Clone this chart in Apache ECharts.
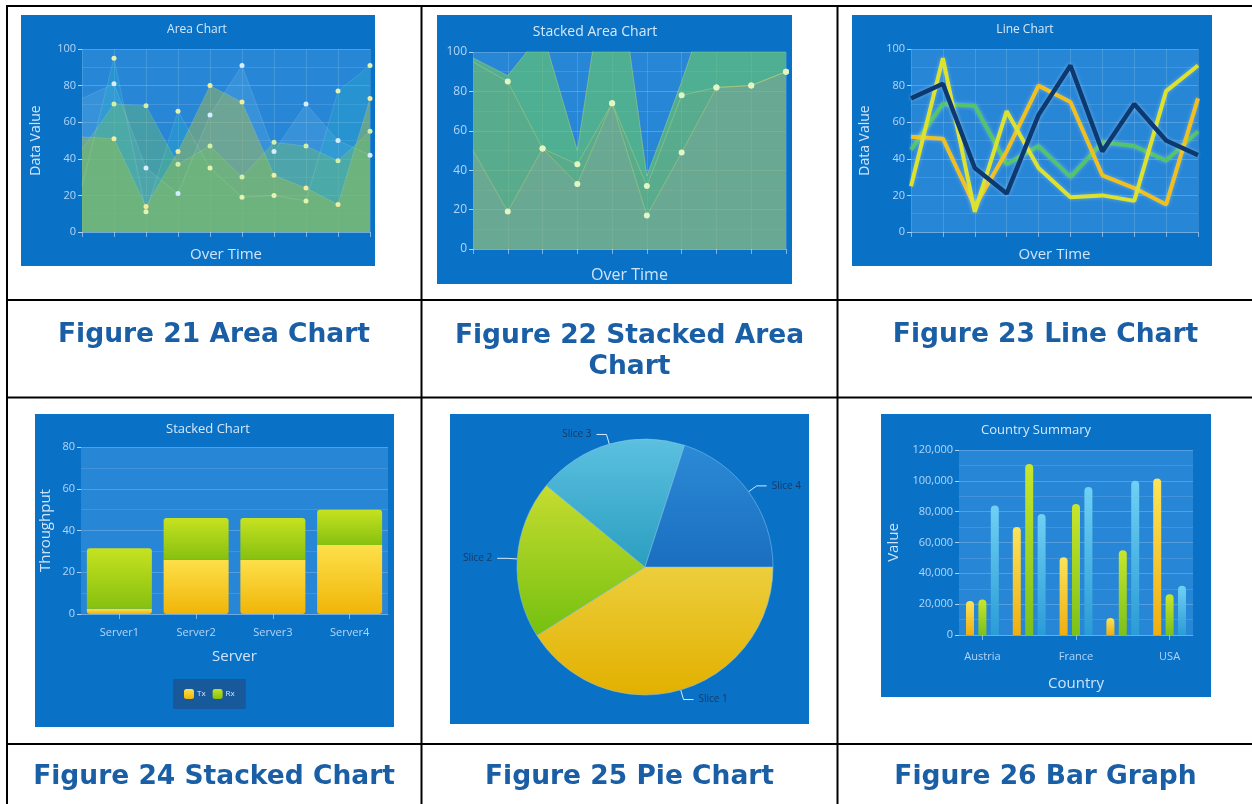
<!DOCTYPE html>
<html><head><meta charset="utf-8">
<script src="https://cdn.jsdelivr.net/npm/echarts@6/dist/echarts.min.js"></script>
<style>html,body{margin:0;padding:0;background:#fff}#c{width:1252px;height:804px}</style>
</head><body><div id="c"></div>
<script>
// ---------- DATA ----------
const timeSteps = ['1','2','3','4','5','6','7','8','9','10'];
const areaNavy   = [73, 81, 35, 21, 64, 91, 44, 70, 50, 42];
const areaYellow = [25, 95, 11, 66, 35, 19, 20, 17, 77, 91];
const areaGold   = [52, 51, 14, 44, 80, 71, 31, 24, 15, 73];
const areaGreen  = [45, 70, 69, 37, 47, 30, 49, 47, 39, 55];

const stackBottom = [50, 19, 51, 33, 74, 17, 49, 82, 83, 90];
const stackMiddle = [45, 66, 0, 10, 0, 15, 29, 0, 0, 0];
const stackTop    = [2, 3, 59, 7, 91, 5, 7, 55, 45, 40];

const servers  = ['Server1', 'Server2', 'Server3', 'Server4'];
const txValues = [2.5, 26, 26, 33];
const rxValues = [29, 20, 20, 17];

const sliceNames  = ['Slice 1', 'Slice 2', 'Slice 3', 'Slice 4'];
const sliceValues = [41, 20, 19, 20];

const countries = ['Austria', 'Canada', 'France', 'Germany', 'USA'];
const countrySeriesA = [22000, 70000, 50500, 11000, 101500];
const countrySeriesB = [23000, 111000, 85000, 55000, 26500];
const countrySeriesC = [84000, 78500, 96000, 100000, 32000];

const captions = ['Figure 21 Area Chart', 'Figure 22 Stacked Area', 'Chart', 'Figure 23 Line Chart',
                  'Figure 24 Stacked Chart', 'Figure 25 Pie Chart', 'Figure 26 Bar Graph'];
const chartTitles = ['Area Chart', 'Stacked Area Chart', 'Line Chart', 'Stacked Chart', 'Country Summary'];

// ---------- STYLE HELPERS ----------
const FONT = '"Open Sans", "Noto Sans", sans-serif';
const PANEL = '#0a72c6';
const PLOT = '#2786d6';
const LBL = 'rgba(205,228,255,0.85)';
const NAMEC = 'rgba(225,238,255,0.92)';
const G = echarts.graphic;
const vgrad = (a, b) => new G.LinearGradient(0, 0, 0, 1, [{offset: 0, color: a}, {offset: 1, color: b}]);
const hideFirstDot = arr => arr.map((v, i) => i === 0 ? {value: v, symbol: 'none'} : v);

function valueAxis(gi, max, interval, name, nameGap, nameSize, labelSize, fmt) {
  return {
    type: 'value', gridIndex: gi, min: 0, max: max, interval: interval,
    name: name, nameLocation: 'middle', nameGap: nameGap, nameRotate: 90,
    nameTextStyle: {color: NAMEC, fontSize: nameSize, fontFamily: FONT},
    axisLine: {show: false},
    axisTick: {show: true, length: 4, lineStyle: {color: LBL}},
    axisLabel: {color: LBL, fontSize: labelSize, fontFamily: FONT, margin: 6, formatter: fmt},
    splitLine: {show: true, lineStyle: {color: 'rgba(255,255,255,0.2)'}},
    minorTick: {show: false, splitNumber: 2},
    minorSplitLine: {show: true, lineStyle: {color: 'rgba(255,255,255,0.12)'}}
  };
}
function catAxis(gi, data, boundaryGap, name, nameGap, nameSize, showLabel, labelInterval, labelMargin) {
  return {
    type: 'category', gridIndex: gi, data: data, boundaryGap: boundaryGap,
    name: name, nameLocation: 'middle', nameGap: nameGap,
    nameTextStyle: {color: NAMEC, fontSize: nameSize, fontFamily: FONT},
    axisLine: {show: true, lineStyle: {color: 'rgba(200,225,255,0.35)'}},
    axisTick: {show: true, length: 5, alignWithLabel: true, lineStyle: {color: 'rgba(200,225,255,0.6)'}},
    axisLabel: {show: showLabel, color: LBL, fontSize: 11, fontFamily: FONT, interval: labelInterval, margin: labelMargin},
    splitLine: {show: !boundaryGap, lineStyle: {color: 'rgba(255,255,255,0.14)'}}
  };
}
function areaSeries(name, data, fill, dot) {
  return {
    type: 'line', name: name, xAxisIndex: 0, yAxisIndex: 0, data: hideFirstDot(data),
    symbol: 'circle', symbolSize: 5, showSymbol: true,
    itemStyle: {color: dot},
    lineStyle: {width: 1, color: 'rgba(255,255,255,0.12)'},
    areaStyle: {color: fill, opacity: 1},
    emphasis: {disabled: true}
  };
}
function lineSeries(name, data, color, width) {
  return {
    type: 'line', name: name, xAxisIndex: 2, yAxisIndex: 2, data: data,
    showSymbol: false, symbol: 'none',
    lineStyle: {width: width, color: color, shadowColor: 'rgba(255,255,255,0.3)', shadowBlur: 4},
    emphasis: {disabled: true}
  };
}
function stackSeries(name, data, fill, showDots) {
  return {
    type: 'line', name: name, xAxisIndex: 1, yAxisIndex: 1, data: showDots ? hideFirstDot(data) : data, stack: 'sa',
    symbol: showDots ? 'circle' : 'none', symbolSize: 6, showSymbol: showDots,
    itemStyle: {color: '#e2f6c4'},
    lineStyle: {width: 1, color: 'rgba(200,215,110,0.45)'},
    areaStyle: {color: fill, opacity: 1},
    emphasis: {disabled: true}
  };
}
function countryBar(name, data, top, bottom) {
  return {
    type: 'bar', name: name, xAxisIndex: 4, yAxisIndex: 4, data: data,
    barWidth: 8, barGap: '55%',
    itemStyle: {color: vgrad(top, bottom), borderRadius: [4, 4, 0, 0]},
    emphasis: {disabled: true}
  };
}

// ---------- GRAPHIC: panels, table, captions, titles ----------
const panels = [
  [21, 15, 354, 251], [437, 15, 355, 269], [852, 15, 360, 251],
  [35, 414, 359, 313], [450, 414, 359, 310], [881, 414, 330, 283]
];
const graphics = [];
panels.forEach(p => graphics.push({type: 'rect', z: -10, shape: {x: p[0], y: p[1], width: p[2], height: p[3]}, style: {fill: PANEL}}));
[7, 421.5, 837.5].forEach(x => graphics.push({type: 'line', z: 50, shape: {x1: x, y1: 5, x2: x, y2: 804}, style: {stroke: '#000', lineWidth: 2}}));
[6, 300, 397.5, 744].forEach(y => graphics.push({type: 'line', z: 50, shape: {x1: 6, y1: y, x2: 1252, y2: y}, style: {stroke: '#000', lineWidth: 2}}));
const capPos = [[214, 335], [629.5, 336], [629.5, 367], [1045.5, 335], [214, 777], [629.5, 777], [1045.5, 777]];
captions.forEach((t, i) => graphics.push({
  type: 'text', z: 50, x: capPos[i][0], y: capPos[i][1],
  style: {text: t, font: 'bold 26.5px "DejaVu Sans", Verdana, sans-serif', fill: '#1a5fa6', align: 'center', verticalAlign: 'middle'}
}));
const titlePos = [[197, 30, 12], [595, 32, 14], [1025, 30, 12], [208, 429, 13], [1036, 430, 13]];
chartTitles.forEach((t, i) => graphics.push({
  type: 'text', z: 50, x: titlePos[i][0], y: titlePos[i][1],
  style: {text: t, font: titlePos[i][2] + 'px ' + FONT, fill: 'rgba(230,242,255,0.92)', align: 'center', verticalAlign: 'middle'}
}));

// ---------- OPTION ----------
const option = {
  backgroundColor: '#ffffff',
  animation: false,
  textStyle: {fontFamily: FONT},
  graphic: graphics,
  grid: [
    {left: 82, top: 49, width: 288, height: 183, show: true, backgroundColor: PLOT, borderWidth: 0},
    {left: 473, top: 52, width: 313, height: 197, show: true, backgroundColor: PLOT, borderWidth: 0},
    {left: 911, top: 49, width: 287, height: 183, show: true, backgroundColor: PLOT, borderWidth: 0},
    {left: 81, top: 447, width: 307, height: 167, show: true, backgroundColor: PLOT, borderWidth: 0},
    {left: 959, top: 450, width: 234, height: 185, show: true, backgroundColor: PLOT, borderWidth: 0}
  ],
  xAxis: [
    catAxis(0, timeSteps, false, 'Over Time', 15, 15, false),
    catAxis(1, timeSteps, false, 'Over Time', 18, 16, false),
    catAxis(2, timeSteps, false, 'Over Time', 15, 15, false),
    catAxis(3, servers, true, 'Server', 35, 15, true, 0, 13),
    catAxis(4, countries, true, 'Country', 41, 15, true, 1, 16)
  ],
  yAxis: [
    valueAxis(0, 100, 20, 'Data Value', 39, 14, 11),
    valueAxis(1, 100, 20, '', 30, 14, 12),
    valueAxis(2, 100, 20, 'Data Value', 39, 14, 11),
    valueAxis(3, 80, 20, 'Throughput', 28, 15, 11),
    valueAxis(4, 120000, 20000, 'Value', 58, 15, 11, v => v.toLocaleString('en-US'))
  ],
  legend: {
    data: ['Tx', 'Rx'], left: 173, top: 679, orient: 'horizontal',
    backgroundColor: '#17599a', padding: [10, 11], itemWidth: 10, itemHeight: 10, itemGap: 7,
    icon: 'roundRect', selectedMode: false,
    textStyle: {color: '#d5e6f7', fontSize: 8, fontFamily: FONT, padding: [0, 0, 0, -2]}
  },
  series: [
    // Figure 21 area chart
    areaSeries('Navy', areaNavy, 'rgba(95,175,230,0.30)', '#d6ecff'),
    areaSeries('Yellow', areaYellow, 'rgba(40,175,200,0.32)', '#e4f4b0'),
    areaSeries('Gold', areaGold, 'rgba(165,185,75,0.48)', '#f0eca0'),
    areaSeries('Green', areaGreen, 'rgba(115,195,95,0.38)', '#d2f0a6'),
    // Figure 22 stacked area
    stackSeries('Stack A', stackBottom, 'rgba(140,185,112,0.66)', true),
    stackSeries('Stack B', stackMiddle, 'rgba(118,192,100,0.64)', true),
    stackSeries('Stack C', stackTop, 'rgba(100,198,108,0.64)', false),
    // Figure 23 line chart
    lineSeries('L Green', areaGreen, '#52c46c', 4),
    lineSeries('L Gold', areaGold, '#f2c01e', 4),
    lineSeries('L Yellow', areaYellow, '#dde22c', 4),
    lineSeries('L Navy', areaNavy, '#0c3a70', 4.5),
    // Figure 24 stacked bars
    {type: 'bar', name: 'Tx', xAxisIndex: 3, yAxisIndex: 3, data: txValues, stack: 'srv', barWidth: 65,
     itemStyle: {color: vgrad('#fde04a', '#f0b508'), borderRadius: [0, 0, 3, 3]}, emphasis: {disabled: true}},
    {type: 'bar', name: 'Rx', xAxisIndex: 3, yAxisIndex: 3, data: rxValues, stack: 'srv', barWidth: 65,
     itemStyle: {color: vgrad('#c6e220', '#86c010'), borderRadius: [3, 3, 0, 0]}, emphasis: {disabled: true}},
    // Figure 25 pie
    {type: 'pie', name: 'Pie', center: [645, 567], radius: 128, startAngle: 0, clockwise: true,
     data: sliceNames.map((n, i) => ({name: n, value: sliceValues[i]})),
     color: [vgrad('#ecce3c', '#e2b000'), vgrad('#c6dc30', '#74c010'), vgrad('#5cc0e0', '#2a9ec0'), vgrad('#2c8ad6', '#1a6ec0')],
     itemStyle: {borderColor: 'rgba(140,200,235,0.5)', borderWidth: 1},
     label: {formatter: '{b}', color: '#163a66', fontSize: 10, fontFamily: FONT},
     labelLine: {length: 10, length2: 10, lineStyle: {color: '#d6eaff', width: 1}},
     emphasis: {disabled: true}},
    // Figure 26 bar graph
    countryBar('Series A', countrySeriesA, '#fbe35a', '#f0ae10'),
    countryBar('Series B', countrySeriesB, '#c8e62c', '#7cc01a'),
    countryBar('Series C', countrySeriesC, '#70d0f4', '#2a9cd6')
  ]
};
const chart = echarts.init(document.getElementById('c'));
chart.setOption(option);
</script>
</body></html>
